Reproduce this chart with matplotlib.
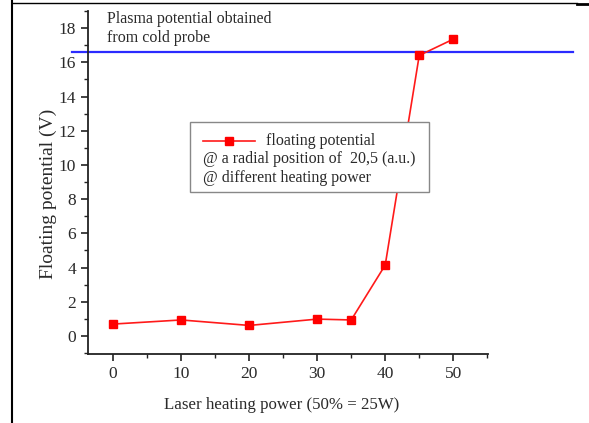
import matplotlib
matplotlib.use("Agg")
import matplotlib.pyplot as plt
from matplotlib.lines import Line2D
from matplotlib.ticker import MultipleLocator
from matplotlib.offsetbox import AnchoredOffsetbox, VPacker, HPacker, TextArea, DrawingArea

# data
power = [0, 10, 20, 30, 35, 40, 45, 50]
v_float = [0.70, 0.94, 0.62, 0.99, 0.94, 4.15, 16.4, 17.35]
v_plasma = 16.6

x_ticks = [0, 10, 20, 30, 40, 50]
y_ticks = [0, 2, 4, 6, 8, 10, 12, 14, 16, 18]

plt.rcParams['font.family'] = ['Liberation Serif', 'DejaVu Serif']
txt_col = '#2a2a2a'

fig = plt.figure(figsize=(5.89, 4.23), dpi=100)
ax = fig.add_axes([0.1494, 0.1631, 0.679, 0.811])

ax.plot(power, v_float, color='#ff1a1a', lw=1.2, marker='s', ms=5.5,
        mec='#ff0000', mfc='#ff0000', zorder=3)
ax.axhline(v_plasma, xmin=-0.04, xmax=1.2125, color='#2b2bff', lw=1.6,
           clip_on=False, zorder=2)

ax.set_xlim(-3.7, 55.1)
ax.set_ylim(-1.05, 19)
ax.set_xticks(x_ticks)
ax.set_yticks(y_ticks)
ax.xaxis.set_minor_locator(MultipleLocator(5))
ax.yaxis.set_minor_locator(MultipleLocator(1))

for s in ['top', 'right']:
    ax.spines[s].set_visible(False)
for s in ['left', 'bottom']:
    ax.spines[s].set_linewidth(1.3)
    ax.spines[s].set_color('#222222')

ax.tick_params(which='major', direction='out', length=5, width=1.2,
               labelsize=12.5, labelcolor=txt_col, color='#222222')
ax.tick_params(which='minor', direction='out', length=3, width=1.0, color='#222222')

ax.set_xlabel('Laser heating power (50% = 25W)', fontsize=12.2, color=txt_col, va='center')
ax.set_ylabel('Floating potential (V)', fontsize=14, color=txt_col, va='center')
ax.xaxis.set_label_coords(0.485, -0.149)
ax.yaxis.set_label_coords(-0.1, 0.466)

ax.text(0.048, 1.0, 'Plasma potential obtained\nfrom cold probe', transform=ax.transAxes,
        fontsize=11.5, color=txt_col, va='top', ha='left', linespacing=1.25)

# legend box (handle line only on the first row)
da = DrawingArea(37, 8, 0, 0)
da.add_artist(Line2D([0, 18.5, 37], [4, 4, 4], color='#ff1a1a', lw=1.2,
                     marker='s', ms=5.5, markevery=[1], mfc='#ff0000', mec='#ff0000'))
tprops = dict(fontsize=11.5, color=txt_col)
row1 = HPacker(children=[da, TextArea('floating potential', textprops=tprops)],
               align='center', pad=0, sep=8)
rows = VPacker(children=[DrawingArea(1, 1), row1,
                         TextArea('@ a radial position of  20,5 (a.u.)', textprops=tprops),
                         TextArea('@ different heating power', textprops=tprops)],
               align='left', pad=0, sep=2)
box = HPacker(children=[DrawingArea(5, 1), rows, DrawingArea(5, 1)], align='center', pad=0, sep=0)
anch = AnchoredOffsetbox(loc='upper left', child=box, pad=0.45, borderpad=0,
                         frameon=True, bbox_to_anchor=(0.255, 0.676),
                         bbox_transform=ax.transAxes)
anch.patch.set_edgecolor('#888888')
anch.patch.set_linewidth(1.0)
ax.add_artist(anch)

# page border from the screenshot
fig.add_artist(Line2D([0.0204, 0.0204], [0, 1], color='black', lw=1.5))
fig.add_artist(Line2D([0.0204, 0.98], [0.993, 0.993], color='black', lw=1.0))
fig.add_artist(Line2D([0.98, 1.0], [0.99, 0.99], color='black', lw=2.0))

fig.savefig('out.png', dpi=100)
